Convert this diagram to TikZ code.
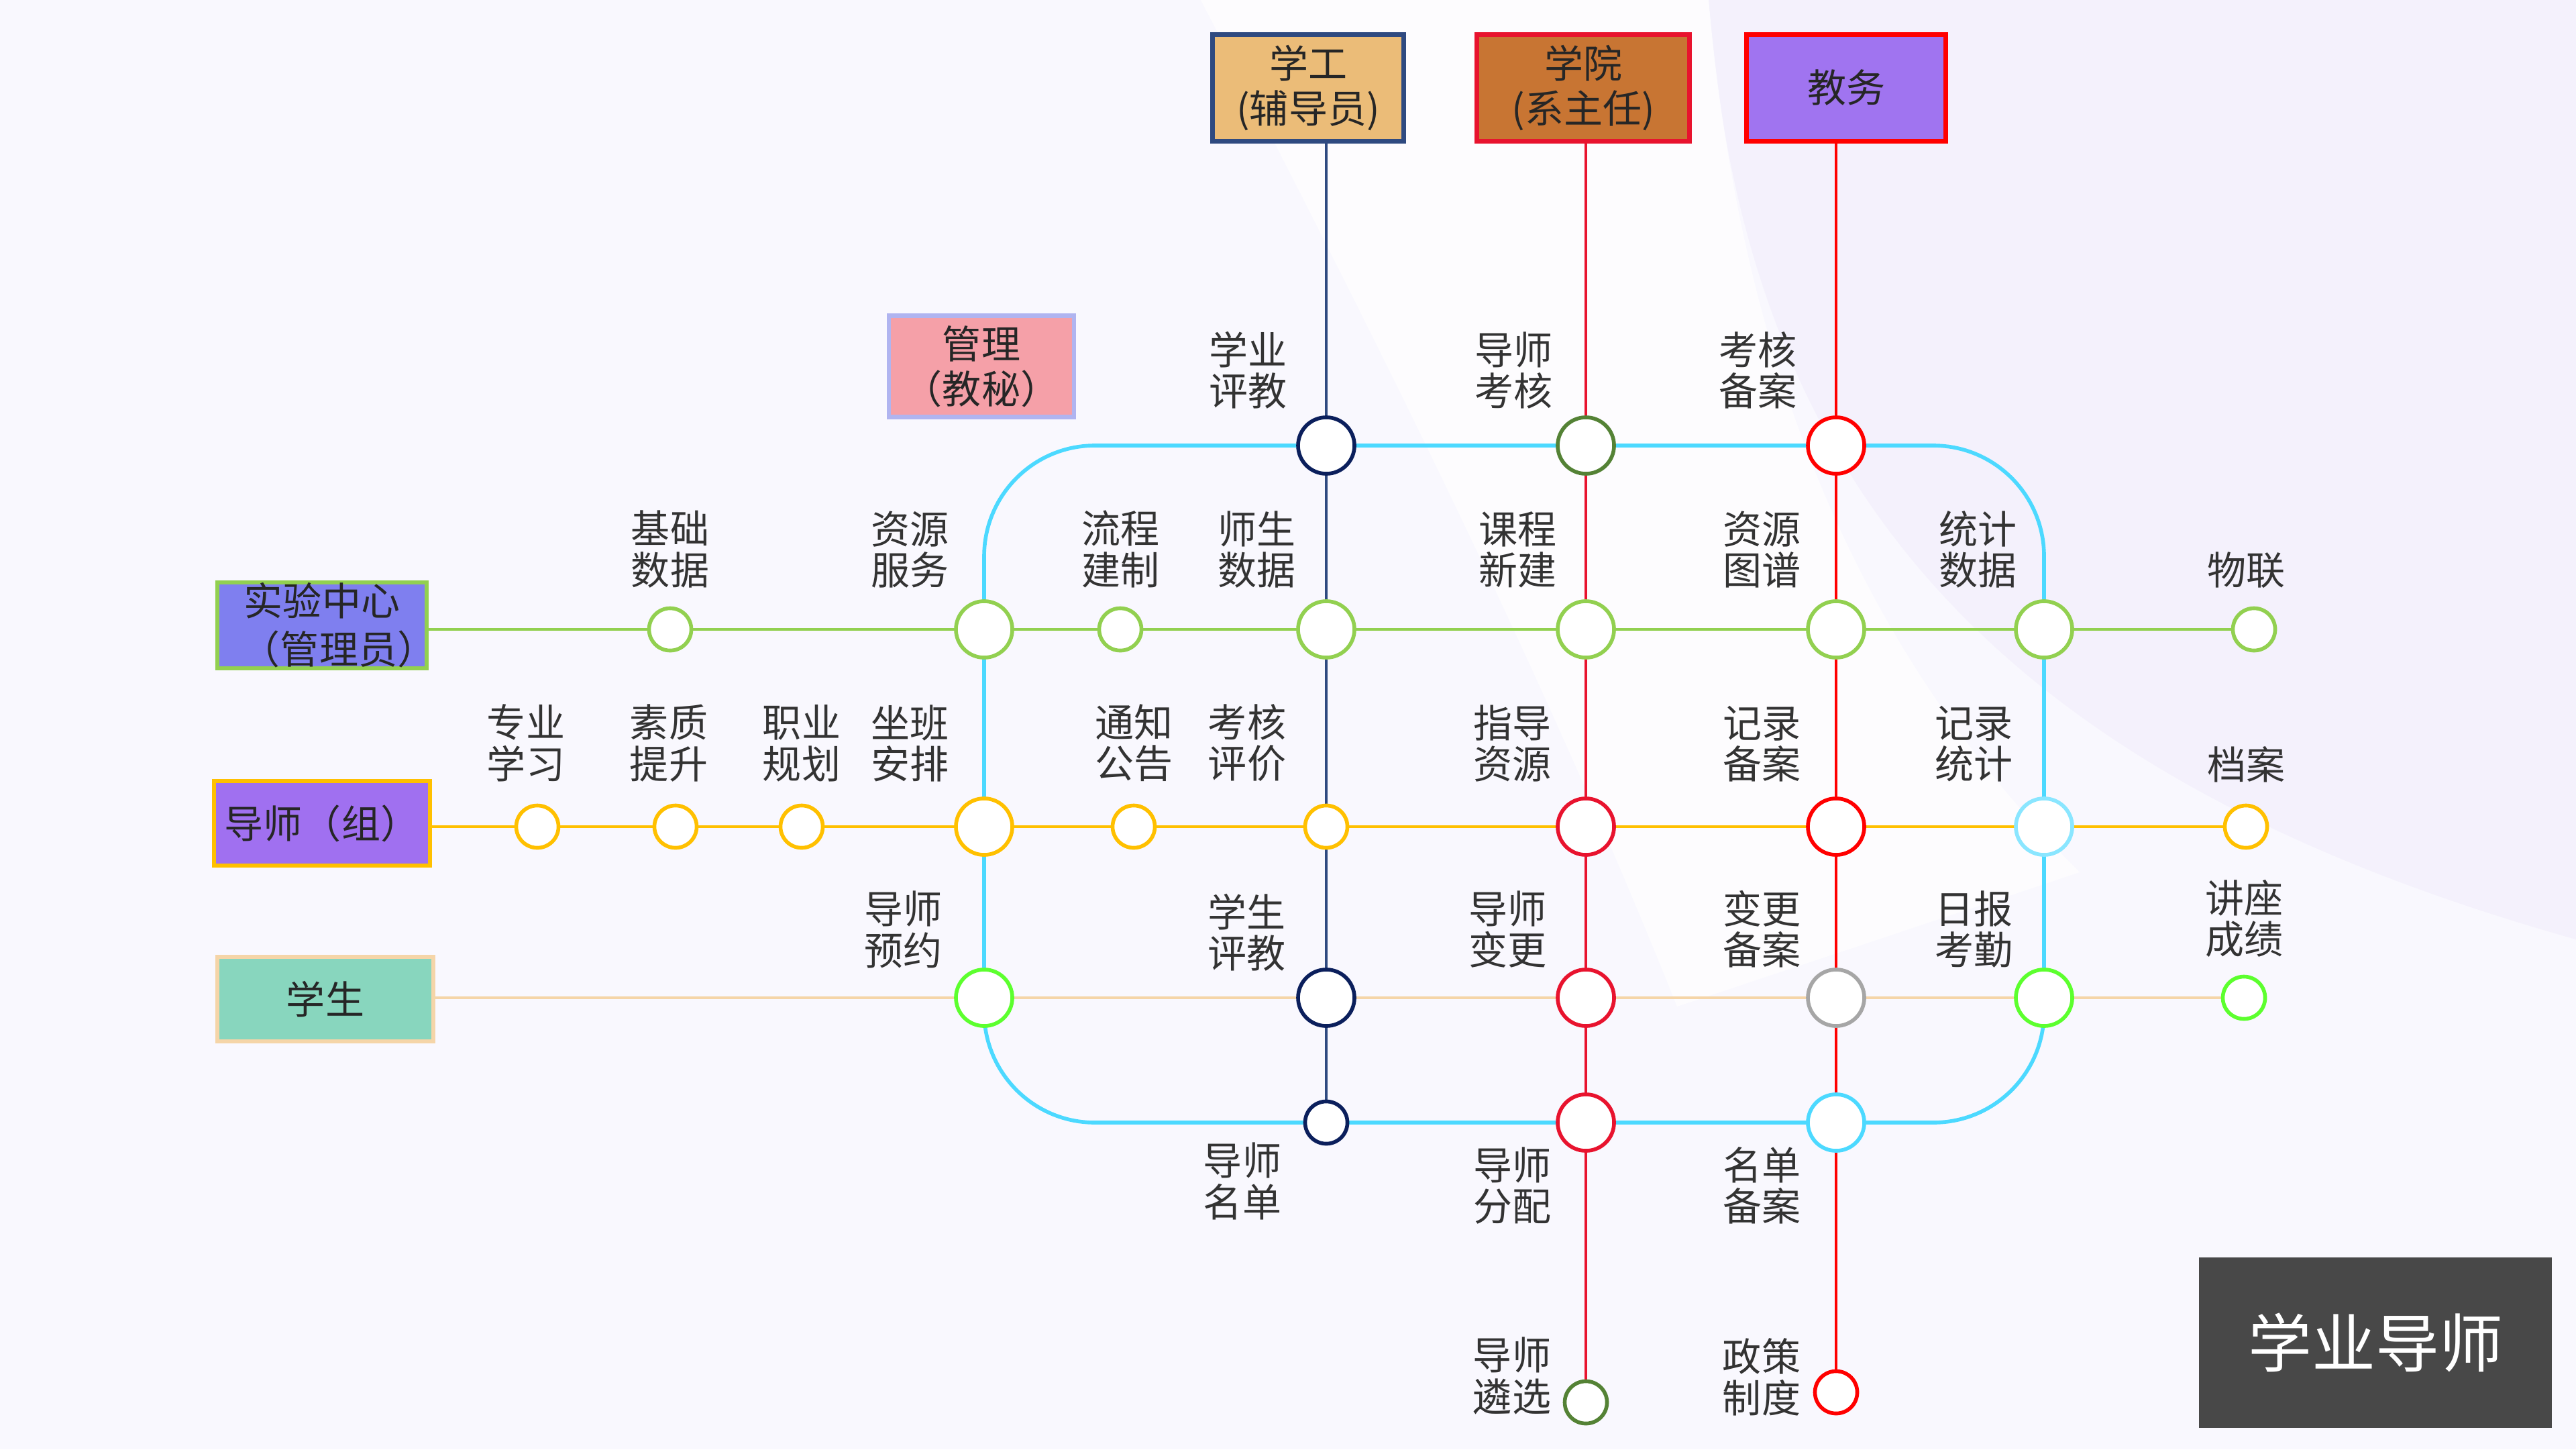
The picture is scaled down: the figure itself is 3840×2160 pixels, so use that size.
\documentclass[tikz,border=0pt]{standalone}
\usepackage{fontspec}
\setmainfont{Noto Sans CJK SC}
\usepackage{xcolor}
\usetikzlibrary{positioning}

\definecolor{bgbase}{HTML}{F9F8FE}
\definecolor{bgright}{HTML}{F4F1FC}
\definecolor{labelgray}{HTML}{333333}
\definecolor{boxtext}{HTML}{262626}
\definecolor{cyanln}{HTML}{4CD9FF}
\definecolor{lightcyan}{HTML}{8AE6FF}
\definecolor{greenln}{HTML}{92D050}
\definecolor{yellowln}{HTML}{FFC000}
\definecolor{beigeln}{HTML}{F5D5A8}
\definecolor{navyln}{HTML}{2F4A80}
\definecolor{navystop}{HTML}{0B1F5C}
\definecolor{crimson}{HTML}{E8132E}
\definecolor{purered}{HTML}{FF0000}
\definecolor{darkgreen}{HTML}{548235}
\definecolor{brightgreen}{HTML}{5CFF2E}
\definecolor{graystop}{HTML}{A6A6A6}
\definecolor{xgfill}{HTML}{EBBC78}
\definecolor{xyfill}{HTML}{C87533}
\definecolor{jwfill}{HTML}{A074F0}
\definecolor{glfill}{HTML}{F5A0A8}
\definecolor{glborder}{HTML}{B0B4F0}
\definecolor{syfill}{HTML}{7F7FEF}
\definecolor{dsfill}{HTML}{A070F0}
\definecolor{xsfill}{HTML}{88D6BE}
\definecolor{titlegray}{HTML}{484848}

\pgfdeclarelayer{back}
\pgfdeclarelayer{lines}
\pgfsetlayers{back,lines,main}

\begin{document}
\begin{tikzpicture}[x=0.01cm, y=-0.01cm,
    lbl/.style={text=labelgray, align=center, inner sep=0pt,
        font=\fontsize{16.5pt}{17.5pt}\selectfont},
    bigstop/.style={circle, draw=#1, fill=white, line width=1.6pt,
        minimum size=0.84cm, inner sep=0pt},
    smallstop/.style={circle, draw=#1, fill=white, line width=1.6pt,
        minimum size=0.63cm, inner sep=0pt},
    rolebox/.style 2 args={draw=#1, fill=#2, line width=1.8pt, align=center,
        inner sep=0pt, text=boxtext, font=\fontsize{16.5pt}{19pt}\selectfont}]
    \useasboundingbox (0,0) rectangle (3840,2160);

    % role boxes
    \node[rolebox={navyln}{xgfill}, minimum width=2.85cm, minimum height=1.59cm] (xg) at (1950,131) {学工\\(辅导员)};
    \node[rolebox={crimson}{xyfill}, minimum width=3.17cm, minimum height=1.59cm] (xy) at (2360,131) {学院\\(系主任)};
    \node[rolebox={purered}{jwfill}, minimum width=2.97cm, minimum height=1.59cm] (jw) at (2752,131) {教务};
    \node[rolebox={glborder}{glfill}, minimum width=2.76cm, minimum height=1.51cm] (gl) at (1463,546) {管理\\（教秘）};
    \node[rolebox={greenln}{syfill}, minimum width=3.12cm, minimum height=1.28cm, font=\fontsize{16.5pt}{20.5pt}\selectfont] (sy) at (480,932) {实验中心\\\hspace*{0.25cm}（管理员）\hspace*{-0.25cm}};
    \node[rolebox={yellowln}{dsfill}, minimum width=3.22cm, minimum height=1.26cm] (ds) at (480,1227) {导师（组）};
    \node[rolebox={beigeln}{xsfill}, minimum width=3.22cm, minimum height=1.26cm] (xs) at (485,1489) {学生};

    % top row
    \node[bigstop=navystop] (xypj) at (1977,664) {};
    \node[bigstop=darkgreen] (dskh) at (2364,664) {};
    \node[bigstop=purered] (khba) at (2737,664) {};

    % green row
    \node[smallstop=greenln] (jcsj) at (999,938) {};
    \node[bigstop=greenln] (zyfw) at (1467,938) {};
    \node[smallstop=greenln] (lcjz) at (1670,938) {};
    \node[bigstop=greenln] (sssj) at (1977,938) {};
    \node[bigstop=greenln] (kcxj) at (2364,938) {};
    \node[bigstop=greenln] (zytp) at (2737,938) {};
    \node[bigstop=greenln] (tjsj) at (3047,938) {};
    \node[smallstop=greenln] (wl) at (3360,938) {};

    % yellow row
    \node[smallstop=yellowln] (zyxx) at (801,1232) {};
    \node[smallstop=yellowln] (sztx) at (1007,1232) {};
    \node[smallstop=yellowln] (zygh) at (1195,1232) {};
    \node[bigstop=yellowln] (zbap) at (1467,1232) {};
    \node[smallstop=yellowln] (tzgg) at (1690,1232) {};
    \node[smallstop=yellowln] (khpj) at (1977,1232) {};
    \node[bigstop=crimson] (zdzy) at (2364,1232) {};
    \node[bigstop=purered] (jlba) at (2737,1232) {};
    \node[bigstop=lightcyan] (jltj) at (3047,1232) {};
    \node[smallstop=yellowln] (da) at (3348,1232) {};

    % student row
    \node[bigstop=brightgreen] (dsyy) at (1467,1487) {};
    \node[bigstop=navystop] (xspj) at (1977,1487) {};
    \node[bigstop=crimson] (dsbg) at (2364,1487) {};
    \node[bigstop=graystop] (bgba) at (2737,1487) {};
    \node[bigstop=brightgreen] (rbkq) at (3047,1487) {};
    \node[smallstop=brightgreen] (jzcj) at (3345,1487) {};

    % bottom row
    \node[smallstop=navystop] (dsmd) at (1977,1673) {};
    \node[bigstop=crimson] (dsfp) at (2364,1673) {};
    \node[bigstop=cyanln] (mdba) at (2737,1673) {};
    \node[smallstop=darkgreen] (dslx) at (2364,2090) {};
    \node[smallstop=purered] (zczd) at (2737,2075) {};

    % labels
    \node[lbl, above left=0.22cm and 0.26cm of xypj] (l-xypj) {学业\\评教};
    \node[lbl, above left=0.22cm and 0.17cm of dskh] (l-dskh) {导师\\考核};
    \node[lbl, above left=0.22cm and 0.26cm of khba] (l-khba) {考核\\备案};

    \node[lbl, above=0.27cm of jcsj] (l-jcsj) {基础\\数据};
    \node[lbl, above left=0.29cm and 0.2cm of zyfw] (l-zyfw) {资源\\服务};
    \node[lbl, above=0.27cm of lcjz] (l-lcjz) {流程\\建制};
    \node[lbl, above left=0.29cm and 0.13cm of sssj] (l-sssj) {师生\\数据};
    \node[lbl, above left=0.29cm and 0.11cm of kcxj] (l-kcxj) {课程\\新建};
    \node[lbl, above left=0.29cm and 0.2cm of zytp] (l-zytp) {资源\\图谱};
    \node[lbl, above left=0.29cm and 0.08cm of tjsj] (l-tjsj) {统计\\数据};
    \node[lbl, above=0.26cm of wl, xshift=-0.12cm] (l-wl) {物联};

    \node[lbl, above=0.32cm of zyxx, xshift=-0.17cm] (l-zyxx) {专业\\学习};
    \node[lbl, above=0.32cm of sztx, xshift=-0.1cm] (l-sztx) {素质\\提升};
    \node[lbl, above=0.32cm of zygh] (l-zygh) {职业\\规划};
    \node[lbl, above left=0.34cm and 0.2cm of zbap] (l-zbap) {坐班\\安排};
    \node[lbl, above=0.32cm of tzgg] (l-tzgg) {通知\\公告};
    \node[lbl, above left=0.42cm and 0.35cm of khpj] (l-khpj) {考核\\评价};
    \node[lbl, above left=0.34cm and 0.19cm of zdzy] (l-zdzy) {指导\\资源};
    \node[lbl, above left=0.34cm and 0.2cm of jlba] (l-jlba) {记录\\备案};
    \node[lbl, above left=0.34cm and 0.14cm of jltj] (l-jltj) {记录\\统计};
    \node[lbl, above=0.31cm of da] (l-da) {档案};

    \node[lbl, above left=0.12cm and 0.3cm of dsyy] (l-dsyy) {导师\\预约};
    \node[lbl, above left=0.07cm and 0.28cm of xspj] (l-xspj) {学生\\评教};
    \node[lbl, above left=0.12cm and 0.26cm of dsbg] (l-dsbg) {导师\\变更};
    \node[lbl, above left=0.12cm and 0.2cm of bgba] (l-bgba) {变更\\备案};
    \node[lbl, above left=0.12cm and 0.14cm of rbkq] (l-rbkq) {日报\\考勤};
    \node[lbl, above=0.25cm of jzcj] (l-jzcj) {讲座\\成绩};

    \node[lbl, below left=0.05cm and 0.42cm of dsmd] (l-dsmd) {导师\\名单};
    \node[lbl, below left=0.04cm and 0.19cm of dsfp] (l-dsfp) {导师\\分配};
    \node[lbl, below left=0.04cm and 0.2cm of mdba] (l-mdba) {名单\\备案};
    \node[lbl, above left=-0.43cm and 0.27cm of dslx] (l-dslx) {导师\\遴选};
    \node[lbl, above left=-0.6cm and 0.28cm of zczd] (l-zczd) {政策\\制度};

    % title
    \node[fill=titlegray, minimum width=5.26cm, minimum height=2.54cm, text=white,
        font=\fontsize{27pt}{30pt}\selectfont] (title) at (3541,2001) {学业导师};

    \begin{pgfonlayer}{lines}
        \draw[cyanln, line width=1.6pt, rounded corners=1.65cm] (zyfw.center) |- (xypj.center)
            -| (mdba.center -| rbkq.center) -| (zyfw.center);
        \draw[greenln, line width=1.4pt] (sy.east |- wl.center) -- (wl);
        \draw[yellowln, line width=1.4pt] (ds.east |- da.center) -- (da);
        \draw[beigeln, line width=1.4pt] (xs.east |- jzcj.center) -- (jzcj);
        \draw[navyln, line width=1.1pt] (xg.south -| xypj) -- (dsmd);
        \draw[crimson, line width=1.1pt] (xy.south -| dskh) -- (dslx);
        \draw[purered, line width=1.1pt] (jw.south -| khba) -- (zczd);
    \end{pgfonlayer}

    \begin{pgfonlayer}{back}
        \fill[bgbase] (0,0) rectangle (3840,2160);
        \fill[bgright] (2547,0) .. controls (2600,700) and (2950,1150) .. (3840,1400) -- (3840,0) -- cycle;
        \fill[white, opacity=0.7] (1790,0) -- (2547,0) .. controls (2600,600) and (2800,1000) .. (3100,1300)
            -- (2500,1500) .. controls (2300,1000) and (2050,500) .. (1790,0) -- cycle;
    \end{pgfonlayer}
\end{tikzpicture}
\end{document}
